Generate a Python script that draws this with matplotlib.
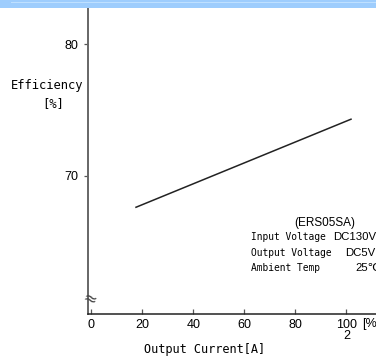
import matplotlib.pyplot as plt
import matplotlib.patches as mpatches

# data
load_pct = [17.5, 101.8]
efficiency = [67.6, 74.3]
xticks = [0, 20, 40, 60, 80, 100]
yticks = [70, 80]
cond_names = ["Input Voltage", "Output Voltage", "Ambient Temp"]
cond_values = ["DC130V", "DC5V", "25℃"]
model = "(ERS05SA)"

W, H = 376, 364
fig = plt.figure(figsize=(W / 100, H / 100), dpi=100)
ax = fig.add_axes([88.3 / W, 1 - 313.7 / H, 1 - 88.3 / W, (313.7 - 7.5) / H])

ax.plot(load_pct, efficiency, color="#222222", lw=1.1)

ax.set_xlim(-1.2, 111.6)
ax.set_ylim(59.5, 82.8)

for s in ["top", "right"]:
    ax.spines[s].set_visible(False)
ax.spines["left"].set_color("#666666")
ax.spines["left"].set_linewidth(1.4)
ax.spines["bottom"].set_color("#222222")
ax.spines["bottom"].set_linewidth(1.1)

ax.set_xticks(xticks)
ax.set_yticks(yticks)
ax.set_xticklabels([str(v) for v in xticks], family="Liberation Sans", fontsize=9)
ax.set_yticklabels([str(v) for v in yticks], family="Liberation Sans", fontsize=9)
ax.tick_params(axis="x", direction="in", length=3.5, width=0.9, color="#555555", pad=4)
ax.tick_params(axis="y", direction="out", length=3, width=0.9, color="#555555", pad=4)

# axis break mark
ax.text(-0.6, 60.6, "≈", ha="center", va="center", fontsize=12, color="#444444",
        family="DejaVu Sans", rotation=-20)

mono = ["DejaVu Sans Mono", "DejaVu Sans"]
fig.text(47 / W, 1 - 86 / H, "Efficiency", ha="center", va="center", family=mono, fontsize=8.7)
fig.text(53 / W, 1 - 103.5 / H, "[%]", ha="center", va="center", family=mono, fontsize=8.7)
fig.text(205 / W, 1 - 350 / H, "Output Current[A]", ha="center", va="center", family=mono, fontsize=8.6)
fig.text(347 / W, 1 - 336 / H, "2", ha="center", va="center", family="Liberation Sans", fontsize=9)
fig.text(362 / W, 1 - 323.5 / H, "[%]", ha="left", va="center", family="Liberation Sans", fontsize=9)

fig.text(325 / W, 1 - 222.5 / H, model, ha="center", va="center", family="Liberation Sans", fontsize=8.5)
rows_y = [237.5, 252.5, 268]
vals_x = [333, 345, 355]
for name, val, y, vx in zip(cond_names, cond_values, rows_y, vals_x):
    fig.text(250.7 / W, 1 - y / H, name, ha="left", va="center", family=mono, fontsize=6.9)
    fig.text(vx / W, 1 - y / H, val, ha="left", va="center", family=["Liberation Sans", "DejaVu Sans"], fontsize=8.2)

# blue band at the top
fig.patches.append(mpatches.Rectangle((0, 1 - 7.5 / H), 1, 7.5 / H, transform=fig.transFigure,
                                      facecolor="#9ecdfd", edgecolor="none", zorder=5))
fig.patches.append(mpatches.Rectangle((11 / W, 1 - 3 / H), 1, 1 / H, transform=fig.transFigure,
                                      facecolor="#bfe0ff", edgecolor="none", zorder=6))

fig.savefig("out.png", dpi=100)
